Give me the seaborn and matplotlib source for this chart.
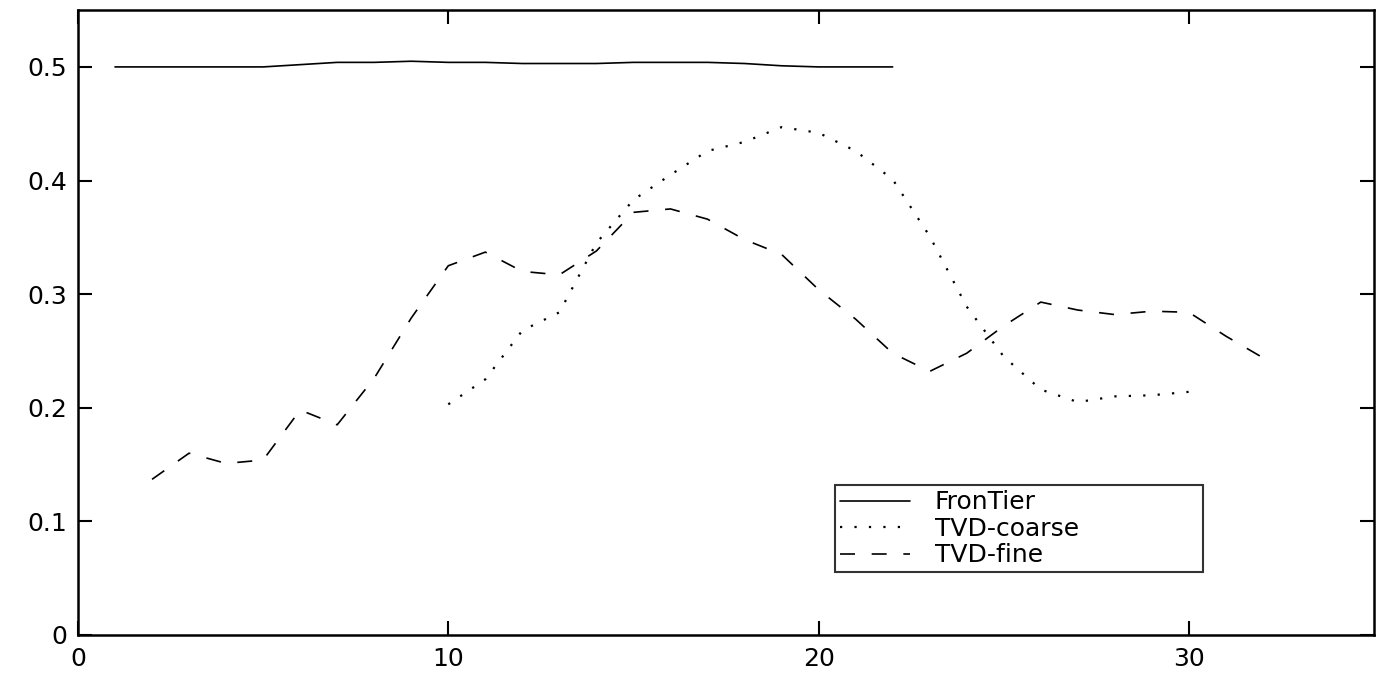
import matplotlib
matplotlib.use("Agg")
import matplotlib.pyplot as plt
import seaborn as sns

# FronTier: interface position, nearly constant
frontier_x = list(range(1, 23))
frontier_y = [0.500, 0.500, 0.500, 0.500, 0.500, 0.502, 0.504, 0.504, 0.505, 0.504,
              0.504, 0.503, 0.503, 0.503, 0.504, 0.504, 0.504, 0.503, 0.501, 0.500,
              0.500, 0.500]

# TVD on the coarse grid
coarse_x = list(range(10, 31))
coarse_y = [0.203, 0.225, 0.268, 0.284, 0.345, 0.383, 0.405, 0.426, 0.434, 0.447,
            0.442, 0.426, 0.401, 0.351, 0.289, 0.245, 0.216, 0.205, 0.210, 0.211,
            0.214]

# TVD on the fine grid
fine_x = list(range(2, 33))
fine_y = [0.137, 0.160, 0.151, 0.154, 0.198, 0.185, 0.226, 0.279, 0.325, 0.337,
          0.320, 0.317, 0.338, 0.372, 0.375, 0.366, 0.348, 0.335, 0.304, 0.278,
          0.248, 0.232, 0.248, 0.272, 0.293, 0.286, 0.282, 0.285, 0.284, 0.263,
          0.244]

labels = ["FronTier", "TVD-coarse", "TVD-fine"]
x_ticks = [0, 10, 20, 30]
y_ticks = [0, 0.1, 0.2, 0.3, 0.4, 0.5]
y_tick_labels = ["0", "0.1", "0.2", "0.3", "0.4", "0.5"]

sns.set_style("ticks")
plt.rcParams["font.family"] = ["DejaVu Sans"]
plt.rcParams["text.color"] = "black"

fig = plt.figure(figsize=(13.8, 6.74), dpi=100)
ax = fig.add_axes([0.0565, 0.0579, 0.9392, 0.9271])

lw = 1.2
sns.lineplot(x=frontier_x, y=frontier_y, ax=ax, color="black", linewidth=lw,
             linestyle="-", label=labels[0])
sns.lineplot(x=coarse_x, y=coarse_y, ax=ax, color="black", linewidth=1.6,
             linestyle=(0, (1, 5.5)), label=labels[1])
sns.lineplot(x=fine_x, y=fine_y, ax=ax, color="black", linewidth=lw,
             linestyle=(0, (9, 10)), label=labels[2])

ax.set_xlim(0, 35)
ax.set_ylim(0, 0.55)
ax.set_xticks(x_ticks)
ax.set_yticks(y_ticks)
ax.set_yticklabels(y_tick_labels)
ax.tick_params(direction="in", length=10, width=1.5, labelsize=18,
               top=True, right=True, colors="black")
ax.tick_params(axis="x", pad=9)
ax.tick_params(axis="y", pad=8)
for sp in ax.spines.values():
    sp.set_linewidth(1.8)
    sp.set_color("black")
ax.set_xlabel("")
ax.set_ylabel("")

leg = ax.legend(loc="lower left", bbox_to_anchor=(0.584, 0.100, 0.284, 0.143),
                mode="expand", frameon=True, fancybox=False, fontsize=18,
                handlelength=2.8, handletextpad=1.0, labelspacing=0.1,
                borderpad=0.2, borderaxespad=0.0)
leg.get_frame().set_edgecolor("black")
leg.get_frame().set_linewidth(1.5)
for t in leg.get_texts():
    t.set_color("black")

fig.savefig("out.png", dpi=100, facecolor="white")
